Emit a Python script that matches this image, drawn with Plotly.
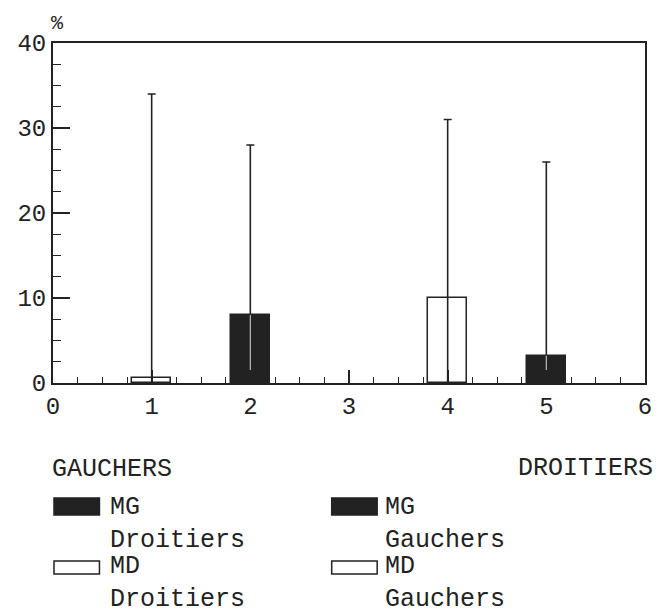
import plotly.graph_objects as go

# ---- data ----
categories = [1, 2, 4, 5]
bar_values = [0.6, 8.0, 10.0, 3.2]
bar_fill = ["white", "black", "white", "black"]
line_tops = [34.0, 28.0, 31.0, 26.0]
black_x = [2, 5]
black_values = [8.0, 3.2]
x_ticks = [0, 1, 2, 3, 4, 5, 6]
y_ticks = [0, 10, 20, 30, 40]

W, H = 661, 616
L, R, T, B = 53, 652, 43, 383
FONT = "Liberation Mono"
INK = "#222222"

fill_colors = [INK if f == "black" else "white" for f in bar_fill]

fig = go.Figure()
fig.add_trace(go.Bar(
    x=categories, y=bar_values, width=0.4,
    marker=dict(color=fill_colors, line=dict(color=INK, width=1.5)),
    showlegend=False, hoverinfo="skip",
))
# vertical spread lines with small caps
fig.add_trace(go.Scatter(
    x=categories, y=[0] * len(categories), mode="markers",
    marker=dict(size=0.1, color="rgba(0,0,0,0)"),
    error_y=dict(type="data", symmetric=False, array=line_tops,
                 arrayminus=[0] * len(categories), width=4, thickness=1.6,
                 color=INK),
    showlegend=False, hoverinfo="skip",
))
# thin light line through the filled bars
fig.add_trace(go.Scatter(
    x=black_x, y=[0] * len(black_x), mode="markers",
    marker=dict(size=0.1, color="rgba(0,0,0,0)"),
    error_y=dict(type="data", symmetric=False, array=black_values,
                 arrayminus=[0] * len(black_x), width=0, thickness=1.2,
                 color="#bbbbbb"),
    showlegend=False, hoverinfo="skip",
))

def px_x(p):
    return (p - L) / (R - L)

def px_y(p):
    return (B - p) / (B - T)

ann = []
def text(s, x, y, anchor="left", align="left"):
    ann.append(dict(text=s, x=px_x(x), y=px_y(y), xref="paper", yref="paper",
                    xanchor=anchor, yanchor="middle", showarrow=False, align=align,
                    font=dict(family=FONT, size=25, color=INK)))

text("GAUCHERS", 50, 469)
text("DROITIERS", 662, 468, "right", "right")
text("MG<br>Droitiers", 109, 524)
text("MD<br>Droitiers", 109, 583)
text("MG<br>Gauchers", 387, 524)
text("MD<br>Gauchers", 387, 583)
ann.append(dict(text="%", x=px_x(58), y=px_y(24), xref="paper", yref="paper",
                xanchor="center", yanchor="middle", showarrow=False,
                font=dict(family=FONT, size=20, color=INK)))

shapes = []
def box(x0, y0, x1, y1, fill):
    shapes.append(dict(type="rect", xref="paper", yref="paper",
                       x0=px_x(x0), x1=px_x(x1), y0=px_y(y1), y1=px_y(y0),
                       fillcolor=fill, line=dict(color=INK, width=1.5)))

box(54, 498, 100, 515, INK)
box(335, 498, 381, 515, INK)
box(54, 561, 100, 574, "white")
box(335, 561, 381, 574, "white")

fig.update_layout(
    width=W, height=H,
    margin=dict(l=L, r=W - R, t=T, b=H - B, pad=0),
    paper_bgcolor="white", plot_bgcolor="white",
    bargap=0, showlegend=False,
    annotations=ann, shapes=shapes,
    font=dict(family=FONT, color=INK),
)
fig.update_xaxes(
    range=[0, 6], tickvals=x_ticks, ticktext=[str(v) for v in x_ticks],
    ticks="inside", ticklen=13, tickwidth=1.5, tickcolor=INK,
    minor=dict(ticks="inside", dtick=0.25, ticklen=6, tickwidth=1.2, tickcolor=INK),
    showline=True, linewidth=2, linecolor=INK, mirror=True,
    showgrid=False, zeroline=False,
    tickfont=dict(family=FONT, size=24, color=INK),
)
fig.update_yaxes(
    range=[0, 40], tickvals=y_ticks, ticktext=[str(v) for v in y_ticks],
    ticks="inside", ticklen=17, tickwidth=1.5, tickcolor=INK,
    minor=dict(ticks="inside", dtick=2.5, ticklen=8, tickwidth=1.2, tickcolor=INK),
    showline=True, linewidth=2, linecolor=INK, mirror=True,
    showgrid=False, zeroline=False,
    tickfont=dict(family=FONT, size=24, color=INK),
)

fig.write_html("out.html", config={"displayModeBar": False},
               post_script="document.body.style.margin='0';document.body.style.overflow='hidden';")
